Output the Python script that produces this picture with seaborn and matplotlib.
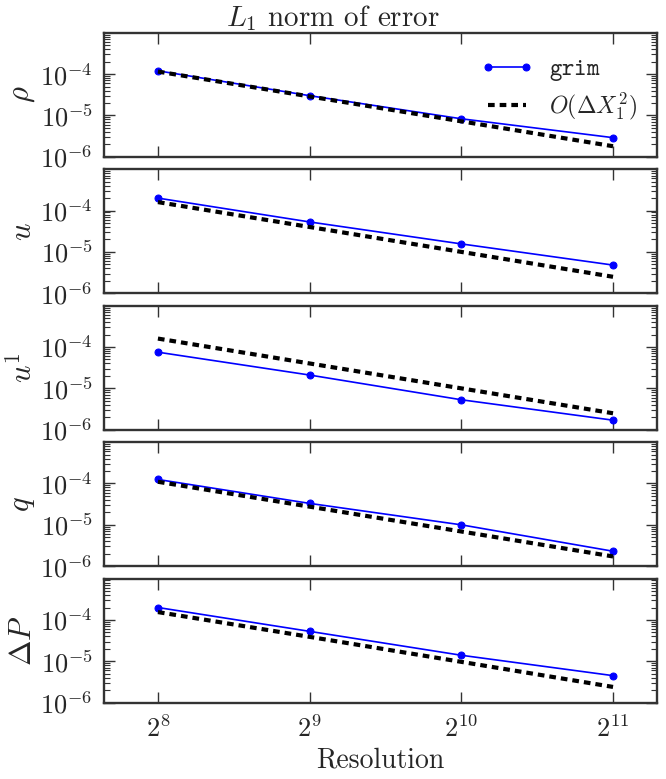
import matplotlib
matplotlib.use('Agg')

import numpy as np
import pandas as pd
import seaborn as sns
import matplotlib.pyplot as plt
from matplotlib.ticker import LogLocator, NullFormatter, FixedLocator, LogFormatterMathtext

resolution = [256, 512, 1024, 2048]

# L1 errors
rho_err = [1.2e-4, 3.0e-5, 8.3e-6, 2.9e-6]
u_err = [2.0e-4, 5.3e-5, 1.56e-5, 4.8e-6]
u1_err = [7.5e-5, 2.1e-5, 5.3e-6, 1.7e-6]
q_err = [1.25e-4, 3.3e-5, 1.0e-5, 2.3e-6]
dP_err = [2.0e-4, 5.3e-5, 1.4e-5, 4.5e-6]

# second order reference lines
rho_ref = [1.15e-4, 2.88e-5, 7.2e-6, 1.8e-6]
u_ref = [1.6e-4, 4.0e-5, 1.0e-5, 2.5e-6]
u1_ref = [1.6e-4, 4.0e-5, 1.0e-5, 2.5e-6]
q_ref = [1.1e-4, 2.75e-5, 6.9e-6, 1.72e-6]
dP_ref = [1.55e-4, 3.9e-5, 9.7e-6, 2.4e-6]

ylabels = [r'$\rho$', r'$u$', r'$u^1$', r'$q$', r'$\Delta P$']
errors = [rho_err, u_err, u1_err, q_err, dP_err]
refs = [rho_ref, u_ref, u1_ref, q_ref, dP_ref]

sns.set_style('ticks')
plt.rcParams['font.family'] = 'serif'
plt.rcParams['font.serif'] = ['cmr10']
plt.rcParams['mathtext.fontset'] = 'cm'
plt.rcParams['axes.unicode_minus'] = False
plt.rcParams['axes.formatter.use_mathtext'] = True

fig, axes = plt.subplots(5, 1, figsize=(6.66, 7.79), dpi=100, sharex=True)
fig.subplots_adjust(left=0.156, right=0.986, top=0.958, bottom=0.098, hspace=0.1)

for i, ax in enumerate(axes):
    df = pd.DataFrame({'N': resolution, 'err': errors[i], 'ref': refs[i]})
    sns.lineplot(data=df, x='N', y='err', ax=ax, color='b', marker='o',
                 markersize=5, markeredgecolor='b', linewidth=1.2,
                 label=r'$\mathtt{grim}$' if i == 0 else None, legend=False)
    sns.lineplot(data=df, x='N', y='ref', ax=ax, color='k', linewidth=3,
                 dashes=False, linestyle=(0, (1.6, 1.2)),
                 label=r'$O(\Delta X_1^2)$' if i == 0 else None, legend=False)
    ax.set_xscale('log', base=2)
    ax.set_yscale('log')
    ax.set_xlim(200, 2500)
    ax.set_ylim(1e-6, 1e-3)
    ax.yaxis.set_major_locator(FixedLocator([1e-6, 1e-5, 1e-4]))
    ax.yaxis.set_major_formatter(LogFormatterMathtext())
    ax.yaxis.set_minor_locator(LogLocator(base=10, subs=np.arange(2, 10), numticks=20))
    ax.yaxis.set_minor_formatter(NullFormatter())
    ax.xaxis.set_major_locator(FixedLocator(resolution))
    ax.xaxis.set_major_formatter(LogFormatterMathtext(base=2))
    ax.tick_params(which='both', direction='in', top=True, right=True, color='0.2')
    ax.tick_params(which='major', length=8, width=1, labelsize=19)
    ax.tick_params(which='minor', length=4, width=0.8)
    ax.tick_params(axis='x', pad=9)
    ax.tick_params(axis='y', pad=8)
    for s in ax.spines.values():
        s.set_linewidth(1.7)
        s.set_color('0.2')
    ax.set_ylabel(ylabels[i], fontsize=22, labelpad=2)
    ax.set_xlabel('')

fig.suptitle(r'$L_1$ norm of error', fontsize=21, x=0.5, y=0.996, va='top')
axes[0].legend(loc='upper right', frameon=False, fontsize=17, numpoints=2,
               handlelength=2.2, handletextpad=0.7, labelspacing=0.3,
               bbox_to_anchor=(1.003, 0.966))
axes[-1].set_xlabel('Resolution', fontsize=20, labelpad=4)

fig.savefig('out.png', dpi=100)
